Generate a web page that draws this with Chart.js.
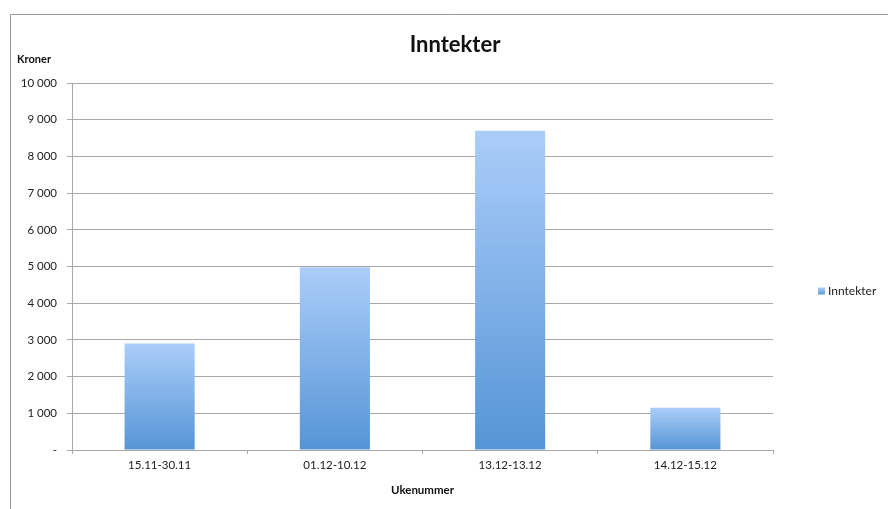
<!DOCTYPE html>
<html>
<head>
<meta charset="utf-8">
<script src="https://cdn.jsdelivr.net/npm/chart.js@4"></script>
<style>
  html, body { margin: 0; padding: 0; background: #fff; }
  #wrap { width: 888px; height: 509px; position: relative; }
</style>
</head>
<body>
<div id="wrap"><canvas id="chart" width="888" height="509"></canvas></div>
<script>
// data
const categories = ['15.11-30.11', '01.12-10.12', '13.12-13.12', '14.12-15.12'];
const inntekter = [2900, 4980, 8700, 1150];
const seriesName = 'Inntekter';
const chartTitle = 'Inntekter';
const yTitle = 'Kroner';
const xTitle = 'Ukenummer';

const FONT = 'Lato, "Open Sans", sans-serif';

function formatKroner(v) {
    if (v === 0) return '-';
    return String(v).replace(/\B(?=(\d{3})+(?!\d))/g, ' ');
}

function barGradient(ctx) {
    const chart = ctx.chart;
    const area = chart.chartArea;
    const yScale = chart.scales.y;
    if (!area || !yScale || ctx.raw === undefined) return '#7aaee8';
    const top = yScale.getPixelForValue(ctx.raw);
    const bottom = area.bottom;
    if (!isFinite(top) || !isFinite(bottom)) return '#7aaee8';
    const g = chart.ctx.createLinearGradient(0, top, 0, bottom);
    g.addColorStop(0, '#abcdf9');
    g.addColorStop(1, '#5595d6');
    return g;
}

// frame, title, y-title and legend
const decorations = {
    id: 'decorations',
    afterDraw(chart) {
        const c = chart.ctx;
        const area = chart.chartArea;
        c.save();
        c.strokeStyle = '#9a9a9a';
        c.lineWidth = 1;
        c.beginPath();
        c.moveTo(10.5, 509);
        c.lineTo(10.5, 14.5);
        c.lineTo(888, 14.5);
        c.stroke();

        c.fillStyle = '#111';
        c.font = 'bold 22px ' + FONT;
        c.textAlign = 'center';
        c.textBaseline = 'middle';
        c.fillText(chartTitle, 455, 45);

        c.font = 'bold 11px ' + FONT;
        c.textAlign = 'left';
        c.fillText(yTitle, 17, 59);

        // legend
        const ly = (area.top + area.bottom) / 2 + 25;
        const g = c.createLinearGradient(0, ly - 4, 0, ly + 4);
        g.addColorStop(0, '#abcdf9');
        g.addColorStop(1, '#5595d6');
        c.fillStyle = g;
        c.fillRect(818, ly - 4, 7, 7);
        c.fillStyle = '#222';
        c.font = '12px ' + FONT;
        c.fillText(seriesName, 828, ly);
        c.restore();
    }
};

new Chart(document.getElementById('chart'), {
    type: 'bar',
    data: {
        labels: categories,
        datasets: [{
            label: seriesName,
            data: inntekter,
            backgroundColor: barGradient,
            borderWidth: 0,
            barPercentage: 0.4,
            categoryPercentage: 1
        }]
    },
    options: {
        responsive: false,
        animation: false,
        layout: { padding: { left: 10, right: 115, top: 83, bottom: 8 } },
        plugins: {
            legend: { display: false },
            title: { display: false },
            tooltip: { enabled: false }
        },
        scales: {
            x: {
                offset: true,
                grid: {
                    offset: true,
                    drawOnChartArea: false,
                    tickLength: 4,
                    color: '#a8a8a8'
                },
                border: { color: '#a8a8a8' },
                ticks: { color: '#222', font: { family: FONT, size: 11.5 }, padding: 4 },
                title: {
                    display: true,
                    text: xTitle,
                    color: '#111',
                    font: { family: FONT, size: 11.5, weight: 'bold' },
                    padding: { top: 8 }
                },
                afterFit(scale) { scale.height = 51; }
            },
            y: {
                min: 0,
                max: 10000,
                grid: { color: '#a8a8a8', tickLength: 5 },
                border: { color: '#a8a8a8' },
                ticks: {
                    stepSize: 1000,
                    color: '#222',
                    font: { family: FONT, size: 11.5 },
                    padding: 10,
                    callback: v => formatKroner(v)
                },
                afterFit(scale) { scale.width = 62; }
            }
        }
    },
    plugins: [decorations]
});
</script>
</body>
</html>
